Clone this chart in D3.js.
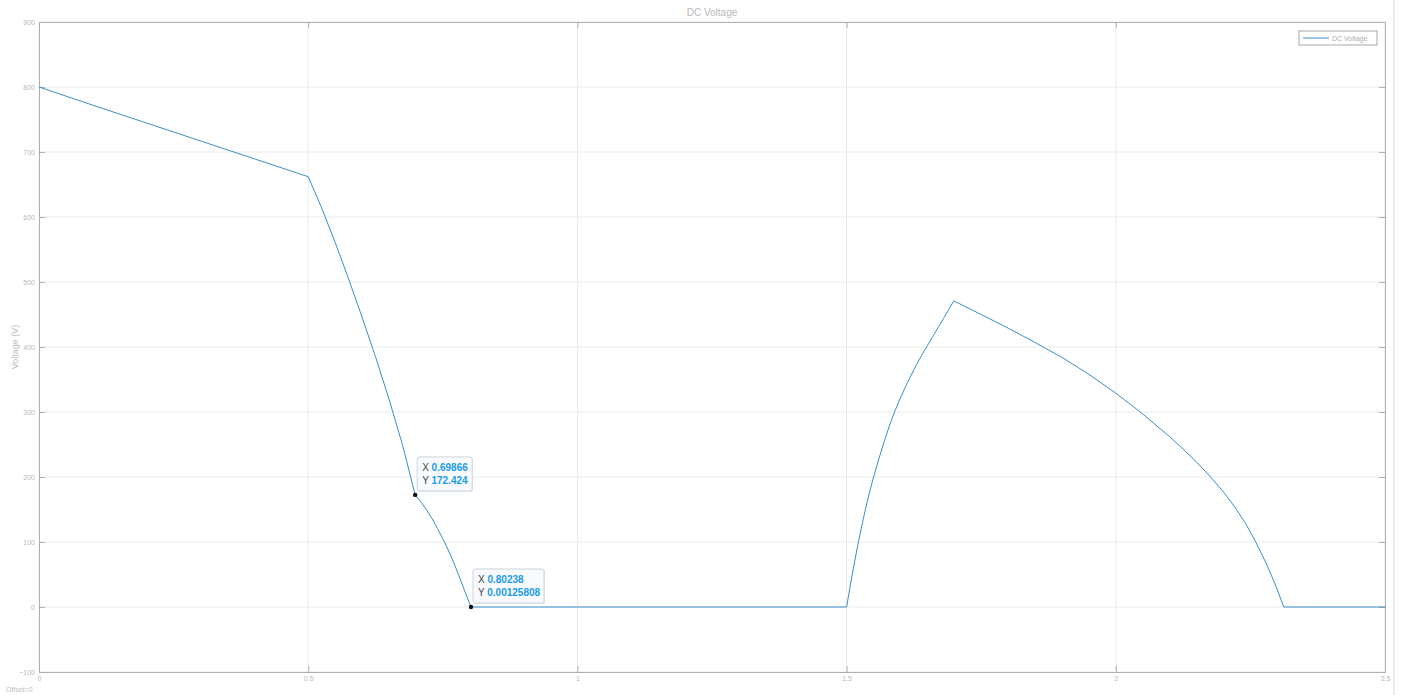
<!DOCTYPE html>
<html>
<head>
<meta charset="utf-8">
<script src="https://cdn.jsdelivr.net/npm/d3@7"></script>
<style>
  body { margin: 0; background: #fff; }
  svg { font-family: "Liberation Sans", Arial, sans-serif; }
  .grid line { stroke: #ebebeb; stroke-width: 1; }
  .axis text { fill: #b8b8b8; font-size: 7px; }
  .axis path, .axis line { stroke: #b0b0b0; }
</style>
</head>
<body>
<script>
// signal samples
var time = [0, 0.1, 0.2, 0.3, 0.4, 0.5, 0.525, 0.55, 0.575, 0.6, 0.625, 0.65, 0.675, 0.69866,
            0.71, 0.72, 0.73, 0.74, 0.75, 0.76, 0.77, 0.78, 0.79, 0.80238, 1.0, 1.25, 1.5,
            1.51, 1.52, 1.53, 1.54, 1.55, 1.56, 1.57, 1.58, 1.59, 1.6, 1.61, 1.62, 1.63, 1.64,
            1.65, 1.66, 1.67, 1.68, 1.69, 1.699,
            1.75, 1.8, 1.85, 1.9, 1.95, 2.0, 2.05, 2.1, 2.125, 2.15, 2.175, 2.2, 2.22, 2.24,
            2.26, 2.28, 2.296, 2.312, 2.4, 2.5];
var voltage = [800, 772, 744.5, 717, 689.5, 662, 614, 561, 505, 446, 385, 320, 250, 172.424,
               161, 149, 136, 121, 105, 88, 69, 48, 26, 0.00125808, 0, 0, 0,
               48, 92, 132, 168, 200, 228, 255, 280, 302, 322, 340, 357, 373, 388,
               402, 416, 430, 444, 458, 471,
               450, 429, 407, 384, 358, 329, 297, 262, 243, 223, 201, 177, 155, 130,
               100, 66, 35, 0, 0, 0];

var xTicks = [0, 0.5, 1, 1.5, 2, 2.5];
var yTicks = [-100, 0, 100, 200, 300, 400, 500, 600, 700, 800, 900];

// data tips shown on the plot
var tipX = [0.69866, 0.80238];
var tipY = [172.424, 0.00125808];
var tipYText = ["172.424", "0.00125808"];

var margin = { top: 22, right: 18, bottom: 23, left: 39 },
    width = 1403 - margin.left - margin.right,
    height = 695 - margin.top - margin.bottom;

var x = d3.scaleLinear().domain([0, 2.5]).range([0, width]);
var y = d3.scaleLinear().domain([-100, 900]).range([height, 0]);

var root = d3.select("body").append("svg")
    .attr("width", 1403)
    .attr("height", 695);

// light strip at right edge
root.append("line")
    .attr("x1", 1394).attr("x2", 1394)
    .attr("y1", 0).attr("y2", 695)
    .attr("stroke", "#ececec").attr("stroke-width", 2);

var svg = root.append("g")
    .attr("transform", "translate(" + margin.left + "," + margin.top + ")");

// grid
svg.append("g").attr("class", "grid")
  .selectAll("line").data(yTicks).enter().append("line")
    .attr("x1", 0).attr("x2", width)
    .attr("y1", function(d) { return y(d); })
    .attr("y2", function(d) { return y(d); });
svg.append("g").attr("class", "grid")
  .selectAll("line").data(xTicks).enter().append("line")
    .attr("y1", 0).attr("y2", height)
    .attr("x1", function(d) { return x(d); })
    .attr("x2", function(d) { return x(d); });

// axes (ticks inward, box round the plot)
svg.append("g").attr("class", "axis")
    .attr("transform", "translate(0," + height + ")")
    .call(d3.axisBottom(x).tickValues(xTicks).tickFormat(d3.format("")).tickSizeInner(-6).tickSizeOuter(0).tickPadding(4));
svg.append("g").attr("class", "axis")
    .call(d3.axisLeft(y).tickValues(yTicks).tickSizeInner(-6).tickSizeOuter(0).tickPadding(4));
svg.append("g").attr("class", "axis")
    .attr("transform", "translate(" + width + ",0)")
    .call(d3.axisRight(y).tickValues(yTicks).tickFormat("").tickSizeInner(-6).tickSizeOuter(0));
svg.append("g").attr("class", "axis")
    .call(d3.axisTop(x).tickValues(xTicks).tickFormat("").tickSizeInner(-6).tickSizeOuter(0));

// the trace
var data = time.map(function(t, i) { return { t: t, v: voltage[i] }; });
var valueline = d3.line()
    .x(function(d) { return x(d.t); })
    .y(function(d) { return y(d.v); });
svg.append("path")
    .datum(data)
    .attr("fill", "none")
    .attr("stroke", "#3a8fc8")
    .attr("stroke-width", 1)
    .attr("d", valueline);

// title and labels
root.append("text")
    .attr("x", margin.left + width / 2).attr("y", 16)
    .attr("text-anchor", "middle")
    .attr("fill", "#b8b8b8").attr("font-size", 10)
    .text("DC Voltage");
root.append("text")
    .attr("transform", "translate(18," + (margin.top + height / 2) + ") rotate(-90)")
    .attr("text-anchor", "middle")
    .attr("fill", "#c0c0c0").attr("font-size", 9)
    .text("Voltage (V)");
root.append("text")
    .attr("x", 6).attr("y", 692)
    .attr("fill", "#c0c0c0").attr("font-size", 7)
    .text("Offset=0");

// legend
var lg = svg.append("g").attr("transform", "translate(" + (width - 86) + ",9)");
lg.append("rect").attr("width", 78).attr("height", 14)
    .attr("fill", "#fff").attr("stroke", "#a8a8a8");
lg.append("line").attr("x1", 4).attr("x2", 30).attr("y1", 7).attr("y2", 7)
    .attr("stroke", "#3a8fc8").attr("stroke-width", 1);
lg.append("text").attr("x", 33).attr("y", 10)
    .attr("fill", "#b0b0b0").attr("font-size", 7)
    .text("DC Voltage");

// data tips
tipX.forEach(function(tx, i) {
  var px = x(tx), py = y(tipY[i]);
  var w = i == 0 ? 55 : 71;
  var g = svg.append("g").attr("transform", "translate(" + (px + 2) + "," + (py - 38) + ")");
  g.append("rect").attr("x", 1).attr("y", 1).attr("width", w).attr("height", 34).attr("rx", 2)
      .attr("fill", "#e4e8ee");
  g.append("rect").attr("width", w).attr("height", 34).attr("rx", 2)
      .attr("fill", "#f8fafd").attr("stroke", "#cfd6de");
  var t1 = g.append("text").attr("x", 5).attr("y", 14).attr("font-size", 10);
  t1.append("tspan").attr("fill", "#444").text("X ");
  t1.append("tspan").attr("fill", "#1a9be8").attr("font-weight", "bold").text(String(tx));
  var t2 = g.append("text").attr("x", 5).attr("y", 27).attr("font-size", 10);
  t2.append("tspan").attr("fill", "#444").text("Y ");
  t2.append("tspan").attr("fill", "#1a9be8").attr("font-weight", "bold").text(tipYText[i]);
  svg.append("circle").attr("cx", px).attr("cy", py).attr("r", 2.2).attr("fill", "#111");
});
</script>
</body>
</html>
